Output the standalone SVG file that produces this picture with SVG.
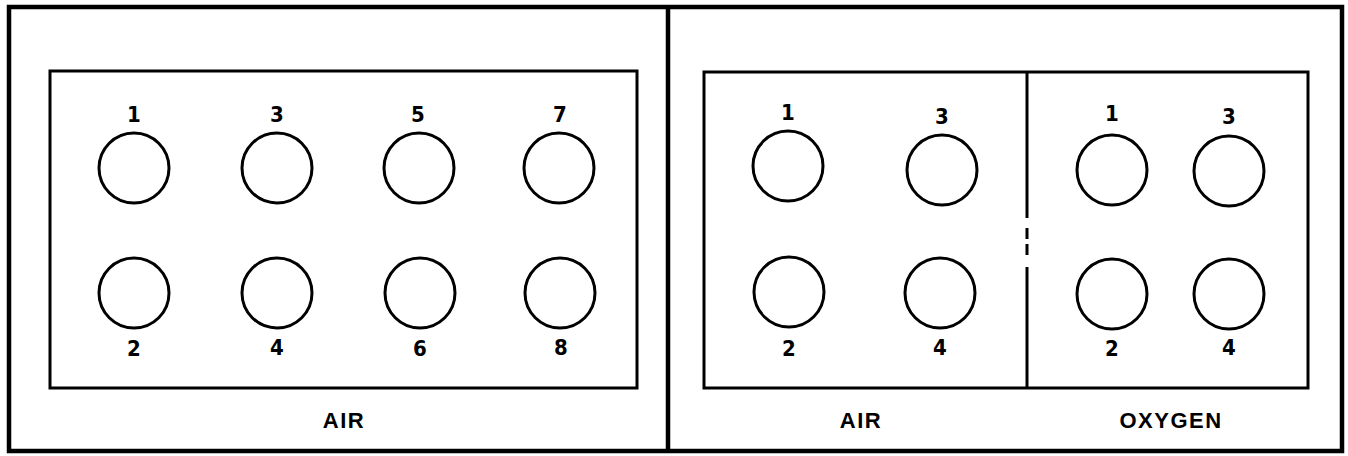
<svg xmlns="http://www.w3.org/2000/svg" width="1348" height="456" viewBox="0 0 1348 456">
<style>
.frame{fill:none;stroke:#000;stroke-width:4.5}
.box{fill:none;stroke:#000;stroke-width:3}
.port{fill:#fff;stroke:#000;stroke-width:3}
.num{font-family:"DejaVu Sans Condensed","Liberation Sans Narrow","Liberation Sans",sans-serif;font-weight:bold;font-size:22px;text-anchor:middle;fill:#000}
.lbl{font-family:"Liberation Sans",Arial,sans-serif;font-weight:bold;font-size:22px;text-anchor:middle;fill:#000;letter-spacing:1.5px}
</style>
<rect width="1348" height="456" fill="#fff"/>
<g id="frame">
<rect class="frame" x="9" y="7" width="1333" height="444"/>
<line class="frame" x1="668" y1="7" x2="668" y2="451"/>
</g>
<g id="panel-left">
<rect class="box" x="50" y="71" width="587" height="317"/>
<text class="lbl" x="344" y="428">AIR</text>
</g>
<g id="panel-right">
<rect class="box" x="704" y="72" width="604" height="316"/>
<text class="lbl" x="861" y="428">AIR</text>
<text class="lbl" x="1171" y="428">OXYGEN</text>
</g>
<g id="connectors">
<line class="box" x1="1027" y1="72" x2="1027" y2="218"/>
<line class="box" x1="1027" y1="228" x2="1027" y2="239"/>
<line class="box" x1="1027" y1="244" x2="1027" y2="255"/>
<line class="box" x1="1027" y1="267" x2="1027" y2="388"/>
</g>
<g id="L1"><circle class="port" cx="134" cy="168" r="35"/><text class="num" x="134" y="122">1</text></g>
<g id="L3"><circle class="port" cx="277" cy="168" r="35"/><text class="num" x="277" y="122">3</text></g>
<g id="L5"><circle class="port" cx="419" cy="168" r="35"/><text class="num" x="418" y="122">5</text></g>
<g id="L7"><circle class="port" cx="559" cy="168" r="35"/><text class="num" x="560" y="122">7</text></g>
<g id="L2"><circle class="port" cx="134" cy="293" r="35"/><text class="num" x="134" y="356">2</text></g>
<g id="L4"><circle class="port" cx="277" cy="293" r="35"/><text class="num" x="277" y="355">4</text></g>
<g id="L6"><circle class="port" cx="420" cy="293" r="35"/><text class="num" x="420" y="356">6</text></g>
<g id="L8"><circle class="port" cx="560" cy="293" r="35"/><text class="num" x="561" y="355">8</text></g>
<g id="RA1"><circle class="port" cx="788" cy="166" r="35"/><text class="num" x="788" y="120">1</text></g>
<g id="RA3"><circle class="port" cx="942" cy="170" r="35"/><text class="num" x="942" y="124">3</text></g>
<g id="RA2"><circle class="port" cx="789" cy="292" r="35"/><text class="num" x="789" y="356">2</text></g>
<g id="RA4"><circle class="port" cx="940" cy="293" r="35"/><text class="num" x="940" y="355">4</text></g>
<g id="RO1"><circle class="port" cx="1112" cy="170" r="35"/><text class="num" x="1112" y="121">1</text></g>
<g id="RO3"><circle class="port" cx="1229" cy="171" r="35"/><text class="num" x="1229" y="124">3</text></g>
<g id="RO2"><circle class="port" cx="1112" cy="294" r="35"/><text class="num" x="1112" y="356">2</text></g>
<g id="RO4"><circle class="port" cx="1229" cy="294" r="35"/><text class="num" x="1229" y="355">4</text></g>
</svg>
